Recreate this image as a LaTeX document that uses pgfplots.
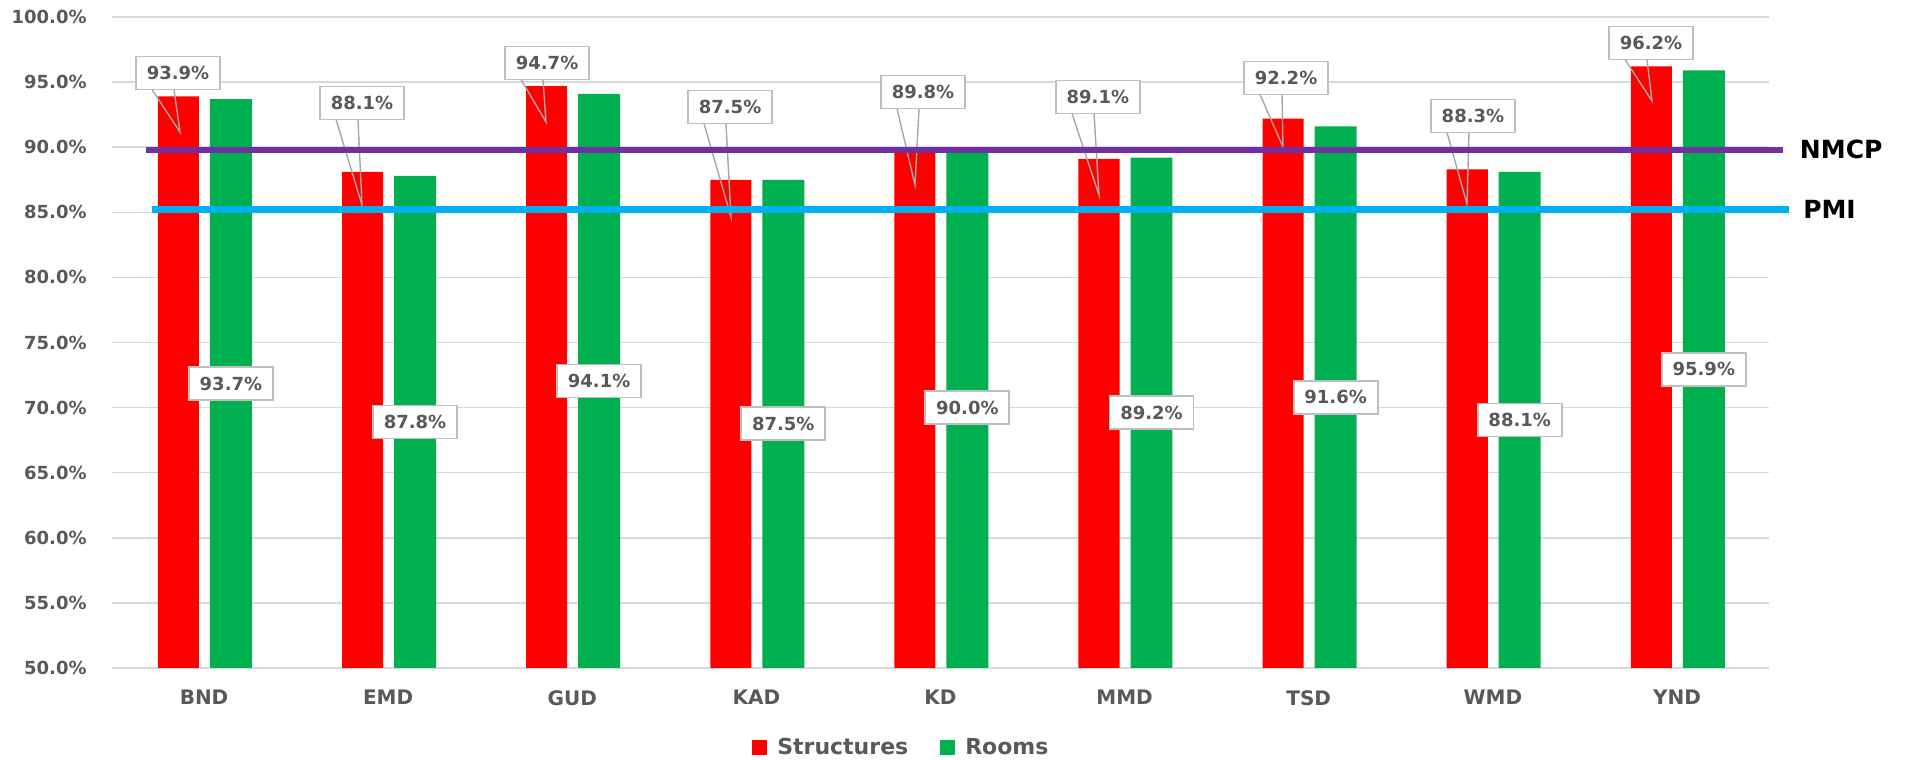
\documentclass[border=0pt]{standalone}
\usepackage{pgfplots}
\pgfplotsset{compat=1.18}
\usepackage{pgfplotstable}
\usepackage{fontspec}
\setmainfont{DejaVu Sans}

\definecolor{cRed}{HTML}{FF0000}
\definecolor{cGreen}{HTML}{00B050}
\definecolor{cPurple}{HTML}{7030A0}
\definecolor{cBlue}{HTML}{00B0F0}
\definecolor{cText}{HTML}{595959}
\definecolor{cGrid}{HTML}{D9D9D9}
\definecolor{cBox}{HTML}{BFBFBF}
\definecolor{cWedge}{HTML}{A6A6A6}

\pgfplotstableread{
x s r lx ly
0 93.9 93.7 -0.1415 95.70
1 88.1 87.8 0.858 93.39
2 94.7 94.1 1.863 96.47
3 87.5 87.5 2.857 93.09
4 89.8 90.0 3.905 94.24
5 89.1 89.2 4.855 93.86
6 92.2 91.6 5.877 95.31
7 88.3 88.1 6.892 92.40
8 96.2 95.9 7.859 98.00
}\data

\pgfplotsset{
  sqlegend/.style={legend image code/.code={\fill[##1] (0pt,-3.75pt) rectangle (7.5pt,3.75pt);}},
}
\tikzset{
  lblbox/.style={draw=cBox, line width=0.9pt, fill=white, text=cText,
    font=\fontsize{9}{10}\selectfont\bfseries, minimum width=42pt,
    minimum height=16.5pt, inner sep=0pt, anchor=center},
}

\begin{document}
\begin{tikzpicture}
\useasboundingbox (-56pt,-46pt) rectangle (898pt,334pt);
\begin{axis}[
  at={(0pt,0pt)}, anchor=south west,
  scale only axis, width=828.5pt, height=325.5pt,
  xmin=-0.5, xmax=8.5, ymin=0, ymax=50,
  y filter/.expression={y-50},
  clip=false,
  axis line style={draw=none},
  major tick length=0pt,
  xtick={0,...,8},
  xticklabels={BND,EMD,GUD,KAD,KD,MMD,TSD,WMD,YND},
  ytick={0,5,...,50},
  yticklabels={50.0\%,55.0\%,60.0\%,65.0\%,70.0\%,75.0\%,80.0\%,85.0\%,90.0\%,95.0\%,100.0\%},
  ymajorgrids, grid style={draw=cGrid, line width=0.75pt},
  yticklabel style={anchor=east, inner sep=0pt, xshift=-12.5pt, font=\fontsize{9}{10}\selectfont\bfseries, text=cText},
  xticklabel style={anchor=north, inner sep=0pt, yshift=-11pt, font=\fontsize{10}{12}\selectfont\bfseries, text=cText},
  legend style={at={(0.477,-0.1229)}, anchor=center, draw=none, fill=none,
    legend columns=2, font=\fontsize{11}{13}\selectfont\bfseries, text=cText,
    /tikz/every odd column/.append style={column sep=3pt},
    /tikz/every even column/.append style={column sep=14pt}},
]
% bars
\addplot[ybar, bar shift=0pt, bar width=0.223, fill=cRed, draw=none, sqlegend]
  table[x expr=\thisrow{x}-0.139, y=s] {\data};
\addlegendentry{Structures}
\addplot[ybar, bar shift=0pt, bar width=0.228, fill=cGreen, draw=none, sqlegend]
  table[x expr=\thisrow{x}+0.146, y=r] {\data};
\addlegendentry{Rooms}

% callout pointers
\addplot[forget plot, draw=cWedge, line width=0.7pt, mark=none] coordinates {(-0.2827,94.43) (-0.1307,91.17) (-0.1632,94.43)};
\addplot[forget plot, draw=cWedge, line width=0.7pt, mark=none] coordinates {(0.7167,92.13) (0.8579,85.56) (0.8361,92.13)};
\addplot[forget plot, draw=cWedge, line width=0.7pt, mark=none] coordinates {(1.7215,95.20) (1.8573,91.94) (1.841,95.20)};
\addplot[forget plot, draw=cWedge, line width=0.7pt, mark=none] coordinates {(2.7155,91.82) (2.8621,84.64) (2.835,91.82)};
\addplot[forget plot, draw=cWedge, line width=0.7pt, mark=none] coordinates {(3.7638,92.97) (3.8615,87.10) (3.8833,92.97)};
\addplot[forget plot, draw=cWedge, line width=0.7pt, mark=none] coordinates {(4.7143,92.59) (4.8609,86.33) (4.8338,92.59)};
\addplot[forget plot, draw=cWedge, line width=0.7pt, mark=none] coordinates {(5.7354,94.05) (5.8603,90.02) (5.8549,94.05)};
\addplot[forget plot, draw=cWedge, line width=0.7pt, mark=none] coordinates {(6.7511,91.13) (6.8597,85.64) (6.8706,91.13)};
\addplot[forget plot, draw=cWedge, line width=0.7pt, mark=none] coordinates {(7.7179,96.74) (7.8646,93.55) (7.8374,96.74)};

% data labels: Structures
\addplot[forget plot, draw=none, mark=none, point meta=explicit symbolic,
  nodes near coords={\pgfplotspointmeta\%},
  every node near coord/.append style={lblbox}]
  table[x=lx, y=ly, meta=s] {\data};
% data labels: Rooms (centred in bar)
\addplot[forget plot, draw=none, mark=none, point meta=explicit symbolic,
  nodes near coords={\pgfplotspointmeta\%},
  every node near coord/.append style={lblbox}]
  table[x expr=\thisrow{x}+0.146, y expr=(\thisrow{r}+50)/2, meta=r] {\data};

% reference lines
\addplot[forget plot, draw=cPurple, line width=3pt, line cap=butt, mark=none]
  coordinates {(-0.3153,89.8) (8.576,89.8)}
  node[pos=1, anchor=west, xshift=7pt, inner sep=0pt, text=black, font=\fontsize{12.5}{14}\selectfont\bfseries] {NMCP};
\addplot[forget plot, draw=cBlue, line width=3.25pt, line cap=butt, mark=none]
  coordinates {(-0.2827,85.2) (8.6087,85.2)}
  node[pos=1, anchor=west, xshift=5.5pt, inner sep=0pt, text=black, font=\fontsize{12.5}{14}\selectfont\bfseries] {PMI};
\end{axis}
\end{tikzpicture}
\end{document}
